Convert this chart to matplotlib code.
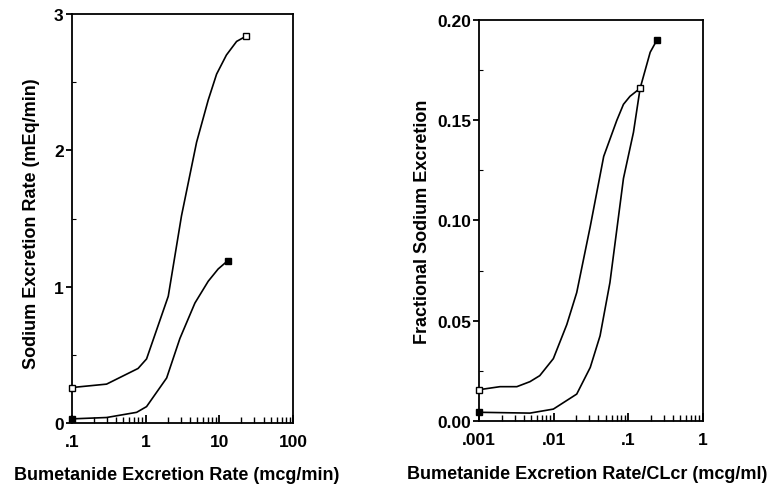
import matplotlib
matplotlib.use("Agg")
from matplotlib import pyplot as plt
from matplotlib.ticker import FixedLocator, LogLocator, NullFormatter

plt.rcParams['font.family'] = ['Liberation Sans', 'DejaVu Sans']
plt.rcParams['font.weight'] = 'bold'

# Sodium excretion rate vs bumetanide excretion rate (mcg/min)
rate_upper_x = [0.1, 0.295, 0.79, 1.03, 2.03, 3.07, 4.92, 7.08, 9.2, 12.5, 17.2, 23.4]
rate_upper_y = [0.26, 0.285, 0.40, 0.47, 0.93, 1.52, 2.06, 2.37, 2.56, 2.70, 2.80, 2.84]
rate_lower_x = [0.1, 0.295, 0.755, 1.03, 1.93, 2.92, 4.67, 7.08, 9.66, 13.0]
rate_lower_y = [0.03, 0.04, 0.078, 0.12, 0.33, 0.62, 0.88, 1.04, 1.13, 1.19]

# Fractional sodium excretion vs excretion rate / CLcr (mcg/ml)
frac_upper_x = [0.001, 0.0019, 0.0032, 0.0048, 0.0065, 0.0099, 0.015, 0.0204,
                0.031, 0.047, 0.0705, 0.0866, 0.106, 0.145]
frac_upper_y = [0.0155, 0.017, 0.017, 0.0195, 0.0225, 0.031, 0.048, 0.064,
                0.097, 0.132, 0.150, 0.158, 0.162, 0.166]
frac_lower_x = [0.001, 0.0048, 0.0099, 0.0204, 0.031, 0.042, 0.057, 0.0866,
                0.118, 0.145, 0.198, 0.243]
frac_lower_y = [0.0042, 0.0038, 0.0058, 0.0133, 0.0266, 0.0424, 0.069, 0.121,
                0.144, 0.166, 0.184, 0.190]

left_xticks = [0.1, 1, 10, 100]
left_xlabels = ['.1', '1', '10', '100']
left_yticks = [0, 1, 2, 3]
right_xticks = [0.001, 0.01, 0.1, 1]
right_xlabels = ['.001', '.01', '.1', '1']
right_yticks = [0.0, 0.05, 0.10, 0.15, 0.20]
right_ylabels = ['0.00', '0.05', '0.10', '0.15', '0.20']

LABEL_SIZE = 13
TICK_SIZE = 12.5


def draw_curves(ax, ux, uy, lx, ly):
    ax.plot(ux, uy, color='black', lw=1.2)
    ax.plot(lx, ly, color='black', lw=1.2)
    # open squares at the ends of the upper curve, filled at the lower one
    ax.plot([ux[0], ux[-1]], [uy[0], uy[-1]], 's', ms=5, mfc='white',
            mec='black', mew=1.0, clip_on=False, zorder=5)
    ax.plot([lx[0], lx[-1]], [ly[0], ly[-1]], 's', ms=5, mfc='black',
            mec='black', clip_on=False, zorder=5)


def style_axes(ax):
    ax.set_xscale('log')
    for sp in ax.spines.values():
        sp.set_linewidth(1.3)
    ax.tick_params(axis='x', which='both', direction='in', top=False,
                   labelsize=TICK_SIZE, pad=8)
    ax.tick_params(axis='x', which='major', length=6, width=1.3)
    ax.tick_params(axis='x', which='minor', length=4, width=1.0)
    ax.tick_params(axis='y', which='major', direction='out', length=4,
                   width=1.3, labelsize=TICK_SIZE, pad=2)
    ax.tick_params(axis='y', which='minor', direction='in', length=3,
                   width=0.8)
    ax.xaxis.set_minor_locator(LogLocator(base=10, subs=range(2, 10)))
    ax.xaxis.set_minor_formatter(NullFormatter())


fig = plt.figure(figsize=(7.78, 4.89), dpi=100)

ax1 = fig.add_axes([0.0925, 0.133, 0.284, 0.836])
draw_curves(ax1, rate_upper_x, rate_upper_y, rate_lower_x, rate_lower_y)
style_axes(ax1)
ax1.set_xlim(0.1, 100)
ax1.set_ylim(0, 3)
ax1.set_xticks(left_xticks)
ax1.set_xticklabels(left_xlabels)
ax1.set_yticks(left_yticks)
ax1.set_yticklabels([str(v) for v in left_yticks])
ax1.yaxis.set_minor_locator(FixedLocator([0.5, 1.5, 2.5]))
ax1.set_xlabel('Bumetanide Excretion Rate (mcg/min)', fontsize=LABEL_SIZE,
               fontweight='bold', va='center')
ax1.set_ylabel('Sodium Excretion Rate (mEq/min)', fontsize=LABEL_SIZE,
               fontweight='bold', va='center')
ax1.xaxis.set_label_coords(0.475, -0.125)
ax1.yaxis.set_label_coords(-0.181, 0.49)

ax2 = fig.add_axes([0.616, 0.1376, 0.287, 0.819])
draw_curves(ax2, frac_upper_x, frac_upper_y, frac_lower_x, frac_lower_y)
style_axes(ax2)
ax2.set_xlim(0.001, 1)
ax2.set_ylim(0, 0.20)
ax2.set_xticks(right_xticks)
ax2.set_xticklabels(right_xlabels)
ax2.set_yticks(right_yticks)
ax2.set_yticklabels(right_ylabels)
ax2.yaxis.set_minor_locator(FixedLocator([0.025, 0.075, 0.125, 0.175]))
ax2.set_xlabel('Bumetanide Excretion Rate/CLcr (mcg/ml)', fontsize=LABEL_SIZE,
               fontweight='bold', va='center')
ax2.set_ylabel('Fractional Sodium Excretion', fontsize=LABEL_SIZE,
               fontweight='bold', va='center')
ax2.xaxis.set_label_coords(0.485, -0.133)
ax2.yaxis.set_label_coords(-0.256, 0.5)

fig.savefig('out.png', dpi=100)
